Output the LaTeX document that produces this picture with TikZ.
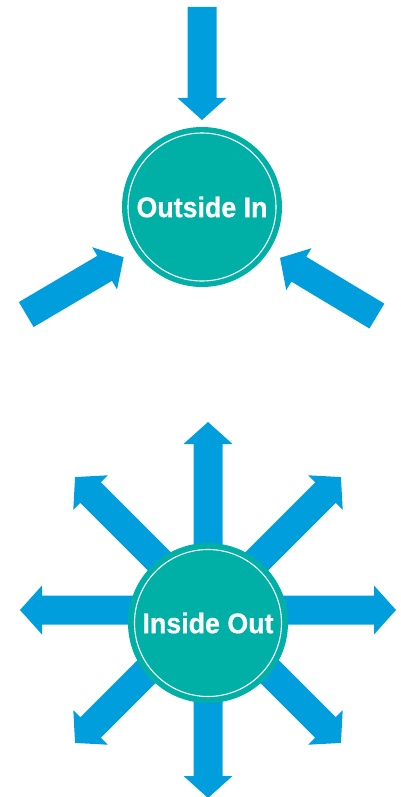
\documentclass[tikz,border=0pt]{standalone}
\usepackage{fontspec}
\newfontfamily\lblfont[FakeStretch=0.94,FakeBold=0.6]{Liberation Sans}
\usetikzlibrary{calc}
\definecolor{arrowblue}{RGB}{0,158,220}
\definecolor{circteal}{RGB}{0,176,166}
\tikzset{
  arrowfill/.style={fill=arrowblue},
  hub/.style={circle, fill=circteal, minimum size=160pt, inner sep=0pt,
    text=white, font=\lblfont\bfseries\fontsize{28.5}{30}\selectfont},
  ring/.style={draw=white, line width=1.1pt}
}
\newcommand\fatarrow[2]{%
  \coordinate (hb) at ($(#2)!22pt!(#1)$);
  \fill[arrowfill] ($(#1)!14.5pt!90:(#2)$) -- ($(hb)!14.5pt!90:(#2)$)
    -- ($(hb)!24.5pt!90:(#2)$) -- (#2) -- ($(hb)!24.5pt!-90:(#2)$)
    -- ($(hb)!14.5pt!-90:(#2)$) -- ($(#1)!14.5pt!-90:(#2)$) -- cycle;
}
\begin{document}
\begin{tikzpicture}[x=1pt,y=-1pt]
\useasboundingbox (0,0) rectangle (401,797);
% ---------- Outside In ----------
\coordinate (o1) at (202,211);
\foreach \a/\n in {270/ta, 149.5/tb, 31/tc}{
  \coordinate (\n tail) at ($(o1)+(\a:204)$);
  \coordinate (\n tip) at ($(o1)+(\a:91)$);
}
\fatarrow{tatail}{tatip}
\fatarrow{tbtail}{tbtip}
\fatarrow{tctail}{tctip}
\node[hub] (c1) at (202,207) {Outside In};
\draw[ring] (c1.center) circle[radius=74pt];
% ---------- Inside Out ----------
\coordinate (o2) at (208,610);
\foreach \a in {0,45,...,315}{
  \coordinate (s\a) at ($(o2)+(\a:60)$);
  \coordinate (e\a) at ($(o2)+(\a:188)$);
  \fatarrow{s\a}{e\a}
}
\node[hub] (c2) at (208,623) {Inside Out};
\draw[ring] (c2.center) circle[radius=73.5pt];
\end{tikzpicture}
\end{document}
